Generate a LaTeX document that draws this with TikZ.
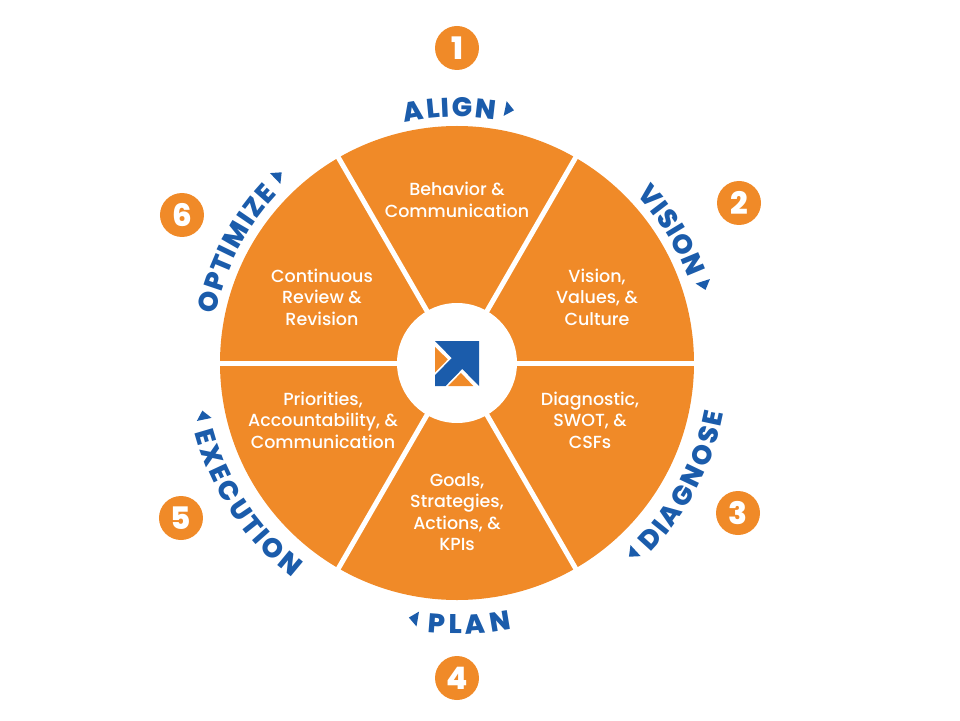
\documentclass[tikz,border=0pt]{standalone}
\usepackage{fontspec}
\setmainfont{Poppins}
\newfontfamily\sectorfont{Poppins Medium}
\newfontfamily\heavyfont{Poppins ExtraBold}
\usetikzlibrary{decorations.text}
\definecolor{wheelorange}{HTML}{F08A28}
\definecolor{stepblue}{HTML}{1B5CAB}
\newcommand{\labelfont}{\heavyfont\fontsize{27}{27}\selectfont}
\tikzset{
  sector/.style={text=white, align=center, font=\sectorfont\fontsize{17.5}{21.5}\selectfont},
  numdot/.style={circle, fill=wheelorange, minimum size=44pt, inner sep=0pt, text=white,
    font=\heavyfont\fontsize{31}{31}\selectfont},
  outword/.style={decorate, decoration={text effects along path, text={#1},
    text effects/.cd, text along path, fit text to path,
    characters={text=stepblue, font=\labelfont}}},
}

\begin{document}
\begin{tikzpicture}[x=1pt,y=1pt]
\useasboundingbox (-457,-357) rectangle (503,363);
% wheel
\fill[wheelorange] (0,0) circle [radius=237];
\foreach \a in {0,60,...,300}
  \draw[white, line width=5pt] (0,0) -- (\a:242);
\fill[white] (0,0) circle [radius=60];
% logo
\begin{scope}[shift={(-22,-23)}, x=44pt, y=45pt]
\fill[stepblue] (0,1) -- (1,1) -- (1,0) -- (0.62,0.38) -- (0.24,0) -- (0,0)
  -- (0,0.24) -- (0.38,0.62) -- cycle;
\fill[wheelorange] (0,0.87) -- (0,0.30) -- (0.29,0.59) -- cycle;
\fill[wheelorange] (0.87,0) -- (0.30,0) -- (0.59,0.29) -- cycle;
\end{scope}
% sector texts
\node[sector] (behav) at (0,163) {Behavior \&\\Communication};
\node[sector] (vision) at (140,66) {Vision,\\Values, \&\\Culture};
\node[sector] (diag) at (133,-57) {Diagnostic,\\SWOT, \&\\CSFs};
\node[sector] (goals) at (0,-149) {Goals,\\Strategies,\\Actions, \&\\KPIs};
\node[sector] (prior) at (-134,-57) {Priorities,\\Accountability, \&\\Communication};
\node[sector] (review) at (-135,66) {Continuous\\Review \&\\Revision};
% step words
\path[outword={ALIGN}] (102.2:246) arc [start angle=102.2, end angle=81.1, radius=246];
\path[outword={VISION}] (43.2:246) arc [start angle=43.2, end angle=20.2, radius=246];
\path[outword={OPTIMIZE}] (168.7:246) arc [start angle=168.7, end angle=136.8, radius=246];
\path[outword={DIAGNOSE}] (-44.4:271) arc [start angle=-44.4, end angle=-10.6, radius=271];
\path[outword={PLAN}] (-96.2:271) arc [start angle=-96.2, end angle=-78.4, radius=271];
\path[outword={EXECUTION}] (194.8:271) arc [start angle=194.8, end angle=232.5, radius=271];
% direction marks
\foreach \a in {78.4,17.5,-47.3,-99.6,191.7,133.7}
  \fill[stepblue, shift={(\a:259)}, rotate=\a-90] (5,0) -- (-4,7.5) -- (-4,-7.5) -- cycle;
% numbers
\node[numdot] (n1) at (0,315) {1};
\node[numdot] (n2) at (282,160) {2};
\node[numdot] (n3) at (281,-150) {3};
\node[numdot] (n4) at (0,-315) {4};
\node[numdot] (n5) at (-276,-155) {5};
\node[numdot] (n6) at (-275,148) {6};
\end{tikzpicture}
\end{document}
